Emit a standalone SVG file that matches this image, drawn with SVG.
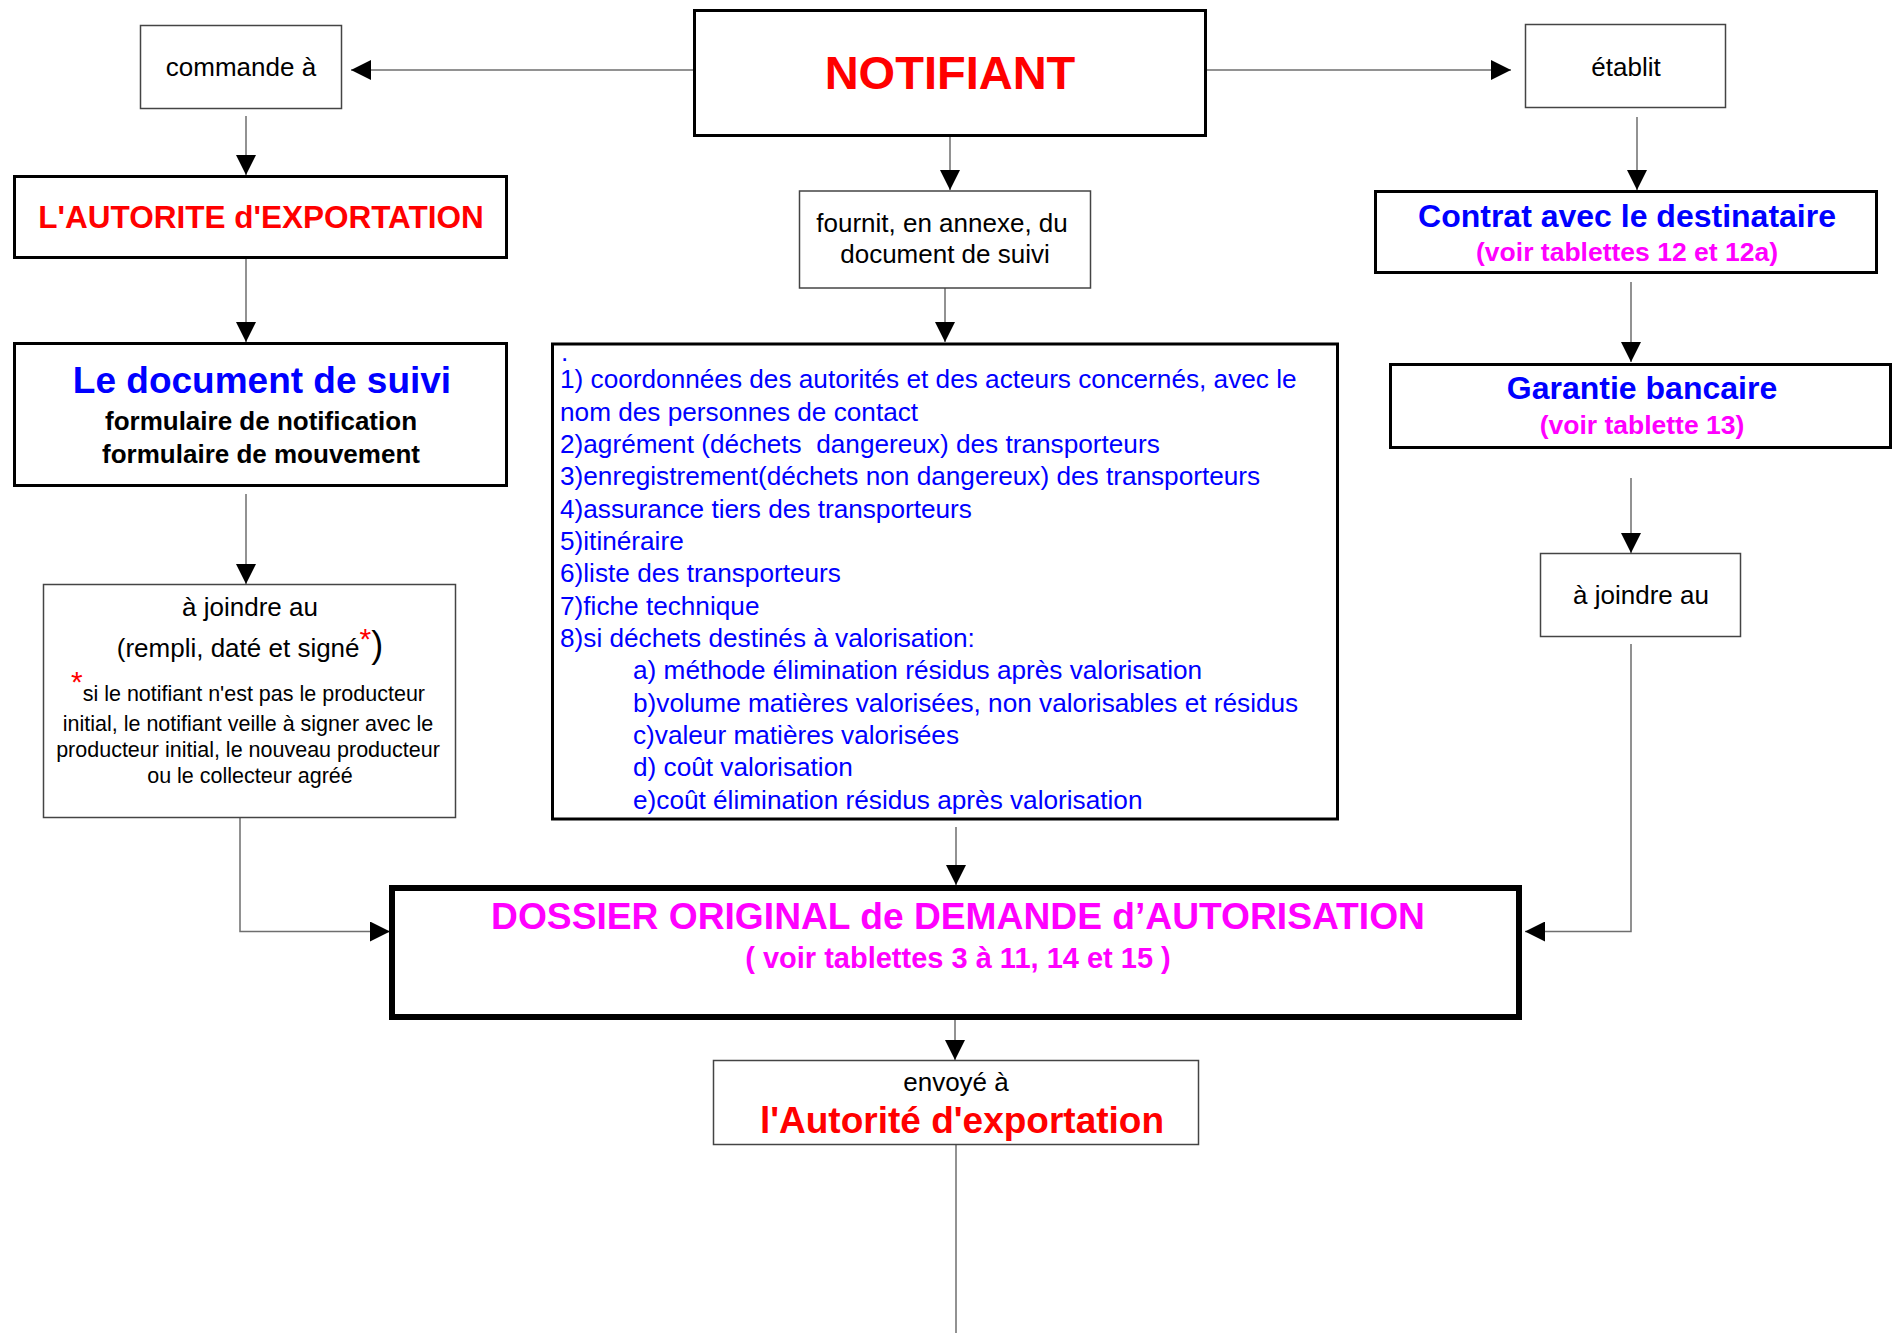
<svg xmlns="http://www.w3.org/2000/svg" width="1894" height="1333" viewBox="0 0 1894 1333">
  <style>
    text { font-family: "Liberation Sans", Arial, sans-serif; }
    .thin { fill: #fff; stroke: #444; stroke-width: 1.5; }
    .thick { fill: #fff; stroke: #000; stroke-width: 3; }
    .heavy { fill: #fff; stroke: #000; stroke-width: 6; }
    .lbl { font-size: 26px; fill: #000; text-anchor: middle; }
    .bold { font-weight: bold; text-anchor: middle; }
    .red { fill: #ff0000; }
    .blue { fill: #0000ff; }
    .mag { fill: #ff00ff; }
    .item { font-size: 26.2px; fill: #0000ff; }
    .note { font-size: 21.5px; fill: #000; text-anchor: middle; }
    .conn { fill: none; stroke: #6e6e6e; stroke-width: 1.5; }
  </style>
  <defs>
    <marker id="arrow" markerUnits="userSpaceOnUse" markerWidth="20" markerHeight="20" refX="20" refY="10" orient="auto">
      <path d="M0,0 L20,10 L0,20 Z" fill="#000"/>
    </marker>
  </defs>
  <rect width="1894" height="1333" fill="#fff"/>

  <!-- connectors -->
  <g id="connectors">
    <path class="conn" d="M693,70 H351" marker-end="url(#arrow)"/>
    <path class="conn" d="M1207,70 H1511" marker-end="url(#arrow)"/>
    <path class="conn" d="M246,116 V175" marker-end="url(#arrow)"/>
    <path class="conn" d="M246,259 V342" marker-end="url(#arrow)"/>
    <path class="conn" d="M246,494 V584" marker-end="url(#arrow)"/>
    <path class="conn" d="M950,137 V190" marker-end="url(#arrow)"/>
    <path class="conn" d="M945,288 V342" marker-end="url(#arrow)"/>
    <path class="conn" d="M1637,117 V190" marker-end="url(#arrow)"/>
    <path class="conn" d="M1631,282 V362" marker-end="url(#arrow)"/>
    <path class="conn" d="M1631,478 V553" marker-end="url(#arrow)"/>
    <path class="conn" d="M1631,644 V931.5 H1525" marker-end="url(#arrow)"/>
    <path class="conn" d="M240,818 V931.5 H390" marker-end="url(#arrow)"/>
    <path class="conn" d="M956,827 V885" marker-end="url(#arrow)"/>
    <path class="conn" d="M955,1020 V1060" marker-end="url(#arrow)"/>
    <path class="conn" d="M956,1145 V1333"/>
  </g>

  <g id="notifiant">
    <rect class="thick" x="694.5" y="10.5" width="511" height="125"/>
    <text class="bold red" x="950" y="89" font-size="47">NOTIFIANT</text>
  </g>

  <g id="commande">
    <rect class="thin" x="140.5" y="25.5" width="201" height="83"/>
    <text class="lbl" x="241" y="76">commande à</text>
  </g>

  <g id="etablit">
    <rect class="thin" x="1525.5" y="24.5" width="200" height="83"/>
    <text class="lbl" x="1626" y="76">établit</text>
  </g>

  <g id="autorite">
    <rect class="thick" x="14.5" y="176.5" width="492" height="81"/>
    <text class="bold red" x="261" y="228" font-size="31.5">L'AUTORITE d'EXPORTATION</text>
  </g>

  <g id="document-suivi">
    <rect class="thick" x="14.5" y="343.5" width="492" height="142"/>
    <text class="bold blue" x="262" y="393" font-size="37">Le document de suivi</text>
    <text class="bold" x="261" y="430" font-size="26">formulaire de notification</text>
    <text class="bold" x="261" y="463" font-size="26">formulaire de mouvement</text>
  </g>

  <g id="joindre-gauche">
    <rect class="thin" x="43.5" y="584.5" width="412" height="233"/>
    <text class="lbl" x="250" y="616">à joindre au</text>
    <text class="lbl" x="250" y="657">(rempli, daté et signé<tspan class="red" font-size="30" dy="-8">*</tspan><tspan dy="8" font-size="36">)</tspan></text>
    <text class="note" x="248" y="701"><tspan class="red" font-size="30" dy="-9">*</tspan><tspan dy="9">si le notifiant n'est pas le producteur</tspan></text>
    <text class="note" x="248" y="731">initial, le notifiant veille à signer avec le</text>
    <text class="note" x="248" y="757">producteur initial, le nouveau producteur</text>
    <text class="note" x="250" y="783">ou le collecteur agréé</text>
  </g>

  <g id="fournit">
    <rect class="thin" x="799.5" y="191" width="291" height="97"/>
    <text class="lbl" x="942" y="232">fournit, en annexe, du</text>
    <text class="lbl" x="945" y="263">document de suivi</text>
  </g>

  <g id="annexes">
    <rect class="thick" x="552.5" y="344" width="785" height="475"/>
    <text class="item" x="561" y="361" font-size="18" fill="#000">.</text>
    <text class="item" x="560" y="388">1) coordonnées des autorités et des acteurs concernés, avec le</text>
    <text class="item" x="560" y="420.5">nom des personnes de contact</text>
    <text class="item" x="560" y="453" xml:space="preserve">2)agrément (déchets  dangereux) des transporteurs</text>
    <text class="item" x="560" y="485">3)enregistrement(déchets non dangereux) des transporteurs</text>
    <text class="item" x="560" y="517.5">4)assurance tiers des transporteurs</text>
    <text class="item" x="560" y="550">5)itinéraire</text>
    <text class="item" x="560" y="582">6)liste des transporteurs</text>
    <text class="item" x="560" y="614.5">7)fiche technique</text>
    <text class="item" x="560" y="647">8)si déchets destinés à valorisation:</text>
    <text class="item" x="633" y="679">a) méthode élimination résidus après valorisation</text>
    <text class="item" x="633" y="711.5">b)volume matières valorisées, non valorisables et résidus</text>
    <text class="item" x="633" y="744">c)valeur matières valorisées</text>
    <text class="item" x="633" y="776">d) coût valorisation</text>
    <text class="item" x="633" y="808.5">e)coût élimination résidus après valorisation</text>
  </g>

  <g id="contrat">
    <rect class="thick" x="1375.5" y="191.5" width="501" height="81"/>
    <text class="bold blue" x="1627" y="227" font-size="32">Contrat avec le destinataire</text>
    <text class="bold mag" x="1627" y="261" font-size="26.5">(voir tablettes 12 et 12a)</text>
  </g>

  <g id="garantie">
    <rect class="thick" x="1390.5" y="364.5" width="500" height="83"/>
    <text class="bold blue" x="1642" y="399" font-size="32">Garantie bancaire</text>
    <text class="bold mag" x="1642" y="433.5" font-size="26.5">(voir tablette 13)</text>
  </g>

  <g id="joindre-droite">
    <rect class="thin" x="1540.5" y="553.5" width="200" height="83"/>
    <text class="lbl" x="1641" y="604">à joindre au</text>
  </g>

  <g id="dossier">
    <rect class="heavy" x="392" y="888" width="1127" height="129"/>
    <text class="bold mag" x="958" y="929" font-size="37.2">DOSSIER ORIGINAL de DEMANDE d’AUTORISATION</text>
    <text class="bold mag" x="958" y="968" font-size="29">( voir tablettes 3 à 11, 14 et 15 )</text>
  </g>

  <g id="envoye">
    <rect class="thin" x="713.5" y="1060.5" width="485" height="84"/>
    <text class="lbl" x="956" y="1091">envoyé à</text>
    <text class="bold red" x="962" y="1133" font-size="37">l'Autorité d'exportation</text>
  </g>
</svg>
